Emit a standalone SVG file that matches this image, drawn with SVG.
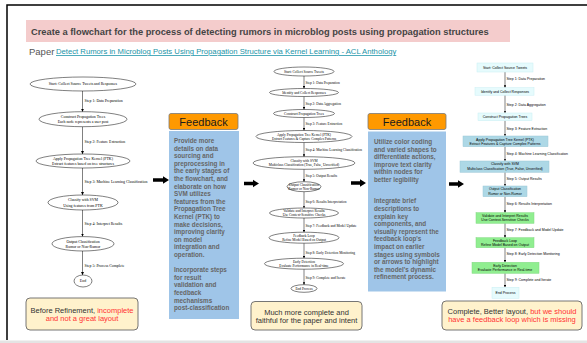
<svg xmlns="http://www.w3.org/2000/svg" width="587" height="343" viewBox="0 0 587 343">
<style>
.frame{stroke:#000;stroke-width:1.5;fill:none}
.gvs{fill:#fff;stroke:#000;stroke-width:0.5}
.gt{font-family:"Liberation Serif","Times New Roman",serif;fill:#000;text-anchor:middle}
.gl{font-family:"Liberation Serif","Times New Roman",serif;fill:#000}
.l{font-size:3.9px}
.m{font-size:3.5px}
.rt{font-family:"Liberation Sans",Arial,sans-serif;font-size:3.5px;fill:#000;text-anchor:middle}
.rl{font-family:"Liberation Sans",Arial,sans-serif;font-size:3.5px;fill:#000}
.cyan{fill:#e6fbfd;stroke:#c8eef3;stroke-width:0.5}
.blue{fill:#add8e6;stroke:#9cc8d6;stroke-width:0.5}
.green{fill:#90ee90;stroke:#80d880;stroke-width:0.5}
.con{stroke:#000;stroke-width:0.5;fill:none}
.hdr{fill:#ff9900;stroke:#7a7a7a;stroke-width:0.8}
.hdrt{font-family:"Liberation Sans",Arial,sans-serif;font-size:11px;fill:#1a1a1a;text-anchor:middle}
.fbb{fill:#9fc5e8}
.fbt{font-family:"Liberation Sans",Arial,sans-serif;font-size:6.3px;font-weight:bold;fill:#666}
.note{fill:#fff2cc;stroke:#666;stroke-width:0.9}
.nt{font-family:"Liberation Sans",Arial,sans-serif;font-size:7.5px;fill:#333;text-anchor:middle}
.red{fill:#ff3333}
.big{fill:#000}
</style>
<defs>
<marker id="ah" viewBox="0 0 6 6" refX="6" refY="3" markerWidth="3" markerHeight="3" markerUnits="userSpaceOnUse" orient="auto">
<path d="M0,0 L6,3 L0,6 z" fill="#000"/>
</marker>
<marker id="ah2" viewBox="0 0 6 6" refX="6" refY="3" markerWidth="2.4" markerHeight="2.4" markerUnits="userSpaceOnUse" orient="auto">
<path d="M0,0 L6,3 L0,6 z" fill="#000"/>
</marker>
</defs>
<rect width="587" height="343" fill="#fff"/>
<path class="frame" d="M7,340 V5 H587"/>
<rect x="0" y="340.5" width="587" height="2.5" fill="#e4e4e4"/>

<g id="title">
<rect x="26" y="20" width="484" height="22" fill="#f4cccc"/>
<text x="31" y="34.6" font-family="Liberation Sans,Arial,sans-serif" font-size="9.3" font-weight="bold" fill="#444">Create a flowchart for the process of detecting rumors in microblog posts using propagation structures</text>
</g>
<g id="paper">
<text x="29" y="54.5" font-family="Liberation Sans,Arial,sans-serif" font-size="9.5" fill="#555">Paper</text>
<text x="56" y="54" font-family="Liberation Sans,Arial,sans-serif" font-size="7.7" fill="#1a94a8" text-decoration="underline">Detect Rumors in Microblog Posts Using Propagation Structure via Kernel Learning - ACL Anthology</text>
</g>

<!-- Left flowchart -->
<g id="left-connectors">
<line class="con" x1="82.5" y1="91" x2="82.5" y2="111.7" marker-end="url(#ah)"/>
<line class="con" x1="82.5" y1="126.7" x2="82.5" y2="154" marker-end="url(#ah)"/>
<line class="con" x1="82.5" y1="168" x2="82.5" y2="195" marker-end="url(#ah)"/>
<line class="con" x1="82.5" y1="210" x2="82.5" y2="236.5" marker-end="url(#ah)"/>
<line class="con" x1="82.5" y1="251" x2="82.5" y2="275" marker-end="url(#ah)"/>
<text class="gl l" x="84.5" y="101.5">Step 1: Data Preparation</text>
<text class="gl l" x="84.5" y="142.5">Step 2: Feature Extraction</text>
<text class="gl l" x="84.5" y="183">Step 3: Machine Learning Classification</text>
<text class="gl l" x="84.5" y="224.8">Step 4: Interpret Results</text>
<text class="gl l" x="84.5" y="266.5">Step 5: Process Complete</text>
</g>
<g id="L1"><ellipse class="gvs" cx="83" cy="84" rx="53" ry="7"/><text class="gt l" x="83" y="85.4">Start: Collect Source Tweets and Responses</text></g>
<g id="L2"><ellipse class="gvs" cx="83" cy="119.2" rx="44" ry="7.5"/><text class="gt l" x="83" y="117.7">Construct Propagation Trees</text><text class="gt l" x="83" y="123.2">Each node represents a user post</text></g>
<g id="L3"><ellipse class="gvs" cx="83" cy="161" rx="47" ry="7"/><text class="gt l" x="83" y="160">Apply Propagation Tree Kernel (PTK)</text><text class="gt l" x="83" y="165.3">Extract features based on tree structures</text></g>
<g id="L4"><ellipse class="gvs" cx="83" cy="202.5" rx="35" ry="7.5"/><text class="gt l" x="83" y="201.2">Classify with SVM</text><text class="gt l" x="83" y="206.8">Using features from PTK</text></g>
<g id="L5"><ellipse class="gvs" cx="83" cy="243.8" rx="31" ry="7.2"/><text class="gt l" x="83" y="242.5">Output Classification</text><text class="gt l" x="83" y="247.8">Rumor or Non-Rumor</text></g>
<g id="L6"><ellipse class="gvs" cx="83" cy="281" rx="9" ry="6"/><text class="gt l" x="83" y="282.4">End</text></g>

<g id="note-left">
<rect class="note" x="26" y="298" width="112" height="32" rx="4"/>
<text class="nt" x="82" y="313"><tspan>Before Refinement, </tspan><tspan class="red">incomplete</tspan></text>
<text class="nt red" x="82" y="321.3">and not a great layout</text>
</g>

<!-- Feedback 1 -->
<g id="feedback1">
<rect class="hdr" x="169" y="113.5" width="69" height="16" rx="2"/>
<text class="hdrt" x="203.5" y="125.5">Feedback</text>
<rect class="fbb" x="169" y="131" width="70" height="188"/>
<text class="fbt" x="174" y="143">Provide more</text>
<text class="fbt" x="174" y="150.6">details on data</text>
<text class="fbt" x="174" y="158.2">sourcing and</text>
<text class="fbt" x="174" y="165.8">preprocessing in</text>
<text class="fbt" x="174" y="173.4">the early stages of</text>
<text class="fbt" x="174" y="181">the flowchart, and</text>
<text class="fbt" x="174" y="188.6">elaborate on how</text>
<text class="fbt" x="174" y="196.2">SVM utilizes</text>
<text class="fbt" x="174" y="203.8">features from the</text>
<text class="fbt" x="174" y="211.4">Propagation Tree</text>
<text class="fbt" x="174" y="219">Kernel (PTK) to</text>
<text class="fbt" x="174" y="226.6">make decisions,</text>
<text class="fbt" x="174" y="234.2">improving clarity</text>
<text class="fbt" x="174" y="241.8">on model</text>
<text class="fbt" x="174" y="249.4">integration and</text>
<text class="fbt" x="174" y="257">operation.</text>
<text class="fbt" x="174" y="272.2">Incorporate steps</text>
<text class="fbt" x="174" y="279.8">for result</text>
<text class="fbt" x="174" y="287.4">validation and</text>
<text class="fbt" x="174" y="295">feedback</text>
<text class="fbt" x="174" y="302.6">mechanisms</text>
<text class="fbt" x="174" y="310.2">post-classification</text>
</g>

<g id="big-arrows">
<path class="big" d="M153,178.3 H163 V176.3 L169,180 L163,183.7 V181.7 H153 z"/>
<path class="big" d="M244,181.8 H253 V179.8 L259,183.5 L253,187.2 V185.2 H244 z"/>
<path class="big" d="M351,181.3 H360 V179.3 L366,183 L360,186.7 V184.7 H351 z"/>
<path class="big" d="M449,182.3 H458 V180.3 L464,184 L458,187.7 V185.7 H449 z"/>
</g>

<!-- Middle flowchart -->
<g id="mid-connectors">
<line class="con" x1="304" y1="76" x2="304" y2="88.5" marker-end="url(#ah2)"/>
<line class="con" x1="304" y1="96.5" x2="304" y2="109.5" marker-end="url(#ah2)"/>
<line class="con" x1="304" y1="117.5" x2="304" y2="130.5" marker-end="url(#ah2)"/>
<line class="con" x1="304" y1="142.5" x2="304" y2="156.7" marker-end="url(#ah2)"/>
<line class="con" x1="304" y1="169.3" x2="304" y2="181.7" marker-end="url(#ah2)"/>
<line class="con" x1="304" y1="191.7" x2="304" y2="208" marker-end="url(#ah2)"/>
<line class="con" x1="304" y1="218" x2="304" y2="232.2" marker-end="url(#ah2)"/>
<line class="con" x1="304" y1="243.2" x2="304" y2="258.2" marker-end="url(#ah2)"/>
<line class="con" x1="304" y1="269.2" x2="304" y2="284.7" marker-end="url(#ah2)"/>
<text class="gl m" x="305.5" y="84">Step 1: Data Preparation</text>
<text class="gl m" x="305.5" y="104.5">Step 2: Data Aggregation</text>
<text class="gl m" x="305.5" y="125.2">Step 3: Feature Extraction</text>
<text class="gl m" x="305.5" y="151.2">Step 4: Machine Learning Classification</text>
<text class="gl m" x="305.5" y="176.5">Step 5: Output Results</text>
<text class="gl m" x="305.5" y="202.9">Step 6: Results Interpretation</text>
<text class="gl m" x="305.5" y="227.2">Step 7: Feedback and Model Update</text>
<text class="gl m" x="305.5" y="253.5">Step 8: Early Detection Monitoring</text>
<text class="gl m" x="305.5" y="278.5">Step 9: Complete and Iterate</text>
</g>
<g id="M1"><ellipse class="gvs" cx="304" cy="71.5" rx="30" ry="4.5"/><text class="gt m" x="304" y="72.8">Start: Collect Source Tweets</text></g>
<g id="M2"><ellipse class="gvs" cx="304" cy="92.5" rx="34.5" ry="4"/><text class="gt m" x="304" y="93.8">Identify and Collect Responses</text></g>
<g id="M3"><ellipse class="gvs" cx="304" cy="113.5" rx="30.5" ry="4"/><text class="gt m" x="304" y="114.8">Construct Propagation Trees</text></g>
<g id="M4"><ellipse class="gvs" cx="304" cy="136.5" rx="48" ry="6"/><text class="gt m" x="304" y="135.8">Apply Propagation Tree Kernel (PTK)</text><text class="gt m" x="304" y="139.9">Extract Features &amp; Capture Complex Patterns</text></g>
<g id="M5"><ellipse class="gvs" cx="304" cy="163" rx="51" ry="6.3"/><text class="gt m" x="304" y="162.2">Classify with SVM</text><text class="gt m" x="304" y="166.3">Multiclass Classification (True, False, Unverified)</text></g>
<g id="M6"><ellipse class="gvs" cx="304" cy="186.7" rx="17" ry="5"/><text class="gt m" x="304" y="186">Output Classification</text><text class="gt m" x="304" y="190">Rumor or Non-Rumor</text></g>
<g id="M7"><ellipse class="gvs" cx="304" cy="213" rx="34.5" ry="5"/><text class="gt m" x="304" y="212.2">Validate and Interpret Results</text><text class="gt m" x="304" y="216.3">Use Context-Sensitive Checks</text></g>
<g id="M8"><ellipse class="gvs" cx="304" cy="237.7" rx="35" ry="5.5"/><text class="gt m" x="304" y="236.9">Feedback Loop</text><text class="gt m" x="304" y="241">Refine Model Based on Output</text></g>
<g id="M9"><ellipse class="gvs" cx="304" cy="263.7" rx="39.5" ry="5.5"/><text class="gt m" x="304" y="262.9">Early Detection</text><text class="gt m" x="304" y="267">Evaluate Performance in Real-time</text></g>
<g id="M10"><ellipse class="gvs" cx="304" cy="288.5" rx="13" ry="3.8"/><text class="gt m" x="304" y="289.8">End Process</text></g>

<g id="note-mid">
<rect class="note" x="251" y="301.5" width="111" height="28.5" rx="4"/>
<text class="nt" x="306.5" y="314.8">Much more complete and</text>
<text class="nt" x="306.5" y="322.5">faithful for the paper and intent</text>
</g>

<!-- Feedback 2 -->
<g id="feedback2">
<rect class="hdr" x="368" y="113.5" width="78" height="16" rx="2"/>
<text class="hdrt" x="407" y="125.5">Feedback</text>
<rect class="fbb" x="368" y="131.5" width="78" height="160"/>
<text class="fbt" x="374" y="143.9">Utilize color coding</text>
<text class="fbt" x="374" y="151.5">and varied shapes to</text>
<text class="fbt" x="374" y="159.1">differentiate actions,</text>
<text class="fbt" x="374" y="166.7">improve text clarity</text>
<text class="fbt" x="374" y="174.3">within nodes for</text>
<text class="fbt" x="374" y="181.9">better legibility</text>
<text class="fbt" x="374" y="203.3">Integrate brief</text>
<text class="fbt" x="374" y="210.9">descriptions to</text>
<text class="fbt" x="374" y="218.5">explain key</text>
<text class="fbt" x="374" y="226.1">components, and</text>
<text class="fbt" x="374" y="233.7">visually represent the</text>
<text class="fbt" x="374" y="241.3">feedback loop's</text>
<text class="fbt" x="374" y="248.9">impact on earlier</text>
<text class="fbt" x="374" y="256.5">stages using symbols</text>
<text class="fbt" x="374" y="264.1">or arrows to highlight</text>
<text class="fbt" x="374" y="271.7">the model's dynamic</text>
<text class="fbt" x="374" y="279.3">refinement process.</text>
</g>

<!-- Right flowchart -->
<g id="right-connectors">
<line class="con" x1="505" y1="72" x2="505" y2="87.7" marker-end="url(#ah2)"/>
<line class="con" x1="505" y1="95.2" x2="505" y2="113" marker-end="url(#ah2)"/>
<line class="con" x1="505" y1="120.7" x2="505" y2="136" marker-end="url(#ah2)"/>
<line class="con" x1="505" y1="146.7" x2="505" y2="161" marker-end="url(#ah2)"/>
<line class="con" x1="505" y1="172.3" x2="505" y2="186" marker-end="url(#ah2)"/>
<line class="con" x1="505" y1="196.7" x2="505" y2="212.7" marker-end="url(#ah2)"/>
<line class="con" x1="505" y1="223.3" x2="505" y2="237.7" marker-end="url(#ah2)"/>
<line class="con" x1="505" y1="247.7" x2="505" y2="262.3" marker-end="url(#ah2)"/>
<line class="con" x1="505" y1="273.3" x2="505" y2="287.3" marker-end="url(#ah2)"/>
<text class="rl" x="506.5" y="80.3">Step 1: Data Preparation</text>
<text class="rl" x="506.5" y="105.5">Step 2: Data Aggregation</text>
<text class="rl" x="506.5" y="129.5">Step 3: Feature Extraction</text>
<text class="rl" x="506.5" y="155">Step 4: Machine Learning Classification</text>
<text class="rl" x="506.5" y="180.2">Step 5: Output Results</text>
<text class="rl" x="506.5" y="204.8">Step 6: Results Interpretation</text>
<text class="rl" x="506.5" y="230.5">Step 7: Feedback and Model Update</text>
<text class="rl" x="506.5" y="255.2">Step 8: Early Detection Monitoring</text>
<text class="rl" x="506.5" y="281.2">Step 9: Complete and Iterate</text>
</g>
<g id="R1"><rect class="cyan" x="477" y="63" width="56" height="9"/><text class="rt" x="505" y="68.8">Start: Collect Source Tweets</text></g>
<g id="R2"><rect class="cyan" x="475" y="87.7" width="59" height="7.5"/><text class="rt" x="505" y="92.7">Identify and Collect Responses</text></g>
<g id="R3"><rect class="cyan" x="478" y="113" width="54" height="7.7"/><text class="rt" x="505" y="118">Construct Propagation Trees</text></g>
<g id="R4"><rect class="blue" x="463" y="136" width="85" height="10.7"/><text class="rt" x="505" y="140.5">Apply Propagation Tree Kernel (PTK)</text><text class="rt" x="505" y="144.8">Extract Features &amp; Capture Complex Patterns</text></g>
<g id="R5"><rect class="blue" x="460" y="161" width="89" height="11.3"/><text class="rt" x="505" y="165.3">Classify with SVM</text><text class="rt" x="505" y="170.2">Multiclass Classification (True, False, Unverified)</text></g>
<g id="R6"><rect class="blue" x="483" y="186" width="44" height="10.7"/><text class="rt" x="505" y="190.3">Output Classification</text><text class="rt" x="505" y="194.6">Rumor or Non-Rumor</text></g>
<g id="R7"><rect class="green" x="476" y="212.7" width="58" height="10.6"/><text class="rt" x="505" y="217">Validate and Interpret Results</text><text class="rt" x="505" y="221.3">Use Context-Sensitive Checks</text></g>
<g id="R8"><rect class="green" x="476" y="237.7" width="58" height="10"/><text class="rt" x="505" y="242">Feedback Loop</text><text class="rt" x="505" y="246.3">Refine Model Based on Output</text></g>
<g id="R9"><rect class="green" x="472" y="262.3" width="67" height="11"/><text class="rt" x="505" y="267">Early Detection</text><text class="rt" x="505" y="271.3">Evaluate Performance in Real-time</text></g>
<g id="R10"><rect class="cyan" x="492" y="287.3" width="27" height="11"/><text class="rt" x="505.5" y="293.6">End Process</text></g>

<g id="note-right">
<rect class="note" x="442" y="301" width="140" height="29" rx="4"/>
<text class="nt" x="512" y="314.2"><tspan>Complete, Better layout, </tspan><tspan class="red">but we should</tspan></text>
<text class="nt red" x="512" y="321.8">have a feedback loop which is missing</text>
</g>
</svg>
